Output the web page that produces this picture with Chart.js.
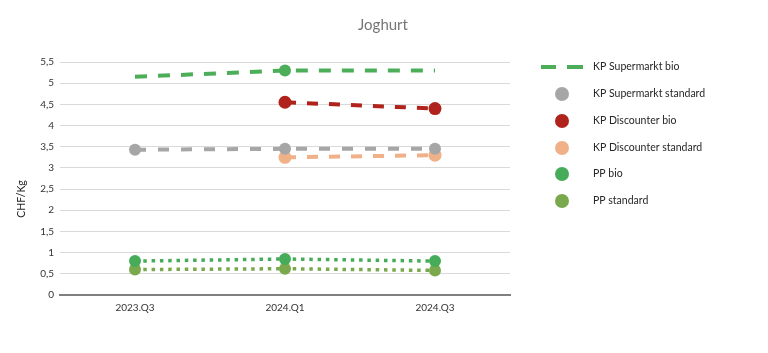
<!DOCTYPE html>
<html>
<head>
<meta charset="utf-8">
<script src="https://cdn.jsdelivr.net/npm/chart.js@4.4.0/dist/chart.umd.min.js"></script>
<style>
  html, body { margin: 0; padding: 0; background: #fff; }
  #wrap { width: 768px; height: 353px; position: relative; }
</style>
</head>
<body>
<div id="wrap"><canvas id="c" width="768" height="353"></canvas></div>
<script>
const categories = ['2023.Q3', '2024.Q1', '2024.Q3'];
const kpSupermarktBio = [5.15, 5.3, 5.3];
const kpSupermarktStandard = [3.43, 3.45, 3.45];
const kpDiscounterBio = [null, 4.55, 4.4];
const kpDiscounterStandard = [null, 3.25, 3.3];
const ppBio = [0.8, 0.85, 0.8];
const ppStandard = [0.6, 0.62, 0.58];
const yTicks = [0, 0.5, 1, 1.5, 2, 2.5, 3, 3.5, 4, 4.5, 5, 5.5];

const FONT = 'Lato, "Open Sans", sans-serif';

const C_GREEN = '#4DAE5A';
const C_GREY = '#A6A6A6';
const C_RED = '#B0231C';
const C_PEACH = '#F0B188';
const C_PPBIO = '#47AC59';
const C_PPSTD = '#79A94C';

function ds(label, data, color, dash, width, radius, legendType) {
  return {
    label, data,
    borderColor: color, backgroundColor: color,
    pointBackgroundColor: color, pointBorderColor: color, pointBorderWidth: 0,
    borderWidth: width, borderDash: dash, borderCapStyle: 'butt',
    pointRadius: radius, pointHoverRadius: radius,
    tension: 0, spanGaps: false, fill: false,
    legendType
  };
}

const datasets = [
  ds('KP Supermarkt bio', kpSupermarktBio, C_GREEN, [12, 11], 4, [0, 6, 0], 'line'),
  ds('KP Supermarkt standard', kpSupermarktStandard, C_GREY, [11, 12], 4, 6, 'dot'),
  ds('KP Discounter bio', kpDiscounterBio, C_RED, [11, 11], 4, 6.5, 'dot'),
  ds('KP Discounter standard', kpDiscounterStandard, C_PEACH, [11, 11], 4, 6.5, 'dot'),
  ds('PP bio', ppBio, C_PPBIO, [3.5, 4.8], 3.5, 6, 'dot'),
  ds('PP standard', ppStandard, C_PPSTD, [3.5, 4.8], 3.5, 6, 'dot')
];

const extras = {
  id: 'extras',
  afterDraw(chart) {
    const ctx = chart.ctx;
    ctx.save();
    ctx.fillStyle = '#767676';
    ctx.font = '15px ' + FONT;
    ctx.textAlign = 'center';
    ctx.textBaseline = 'middle';
    ctx.fillText('Joghurt', 383, 25);
    // y axis title
    ctx.save();
    ctx.translate(22, 199);
    ctx.rotate(-Math.PI / 2);
    ctx.fillStyle = '#262626';
    ctx.font = '10.5px ' + FONT;
    ctx.fillText('CHF/Kg', 0, 0);
    ctx.restore();
    const ys = [67, 94, 121, 148, 174, 201];
    ctx.font = '10.5px ' + FONT;
    ctx.textAlign = 'left';
    chart.data.datasets.forEach((d, i) => {
      const y = ys[i];
      if (d.legendType === 'line') {
        ctx.strokeStyle = d.borderColor;
        ctx.lineWidth = 4;
        ctx.lineCap = 'butt';
        ctx.beginPath();
        ctx.moveTo(541, y); ctx.lineTo(556, y);
        ctx.moveTo(567, y); ctx.lineTo(583, y);
        ctx.stroke();
      } else {
        ctx.fillStyle = d.backgroundColor;
        ctx.beginPath();
        ctx.arc(562, y, 7, 0, Math.PI * 2);
        ctx.fill();
      }
      ctx.fillStyle = '#262626';
      ctx.fillText(d.label, 593, y);
    });
    ctx.restore();
  }
};

new Chart(document.getElementById('c'), {
  type: 'line',
  data: { labels: categories, datasets },
  plugins: [extras],
  options: {
    responsive: false,
    animation: false,
    layout: { padding: { left: 30, right: 258, top: 62, bottom: 38 } },
    plugins: { legend: { display: false }, title: { display: false }, tooltip: { enabled: false } },
    scales: {
      x: {
        offset: true,
        grid: { display: false, drawTicks: false },
        border: { display: true, color: '#7F7F7F', width: 2 },
        ticks: { color: '#333333', font: { family: FONT, size: 10 }, padding: 7, maxRotation: 0 },
        afterFit(s) { s.height = 20; }
      },
      y: {
        min: 0, max: 5.5,
        afterBuildTicks(s) { s.ticks = yTicks.map(v => ({ value: v })); },
        grid: { color: '#D9D9D9', lineWidth: 1, drawTicks: false },
        border: { display: false },
        ticks: {
          color: '#333333', font: { family: FONT, size: 10 }, padding: 6,
          callback: v => String(v).replace('.', ',')
        },
        title: { display: false },
        afterFit(s) { s.width = 30; }
      }
    }
  }
});
</script>
</body>
</html>
